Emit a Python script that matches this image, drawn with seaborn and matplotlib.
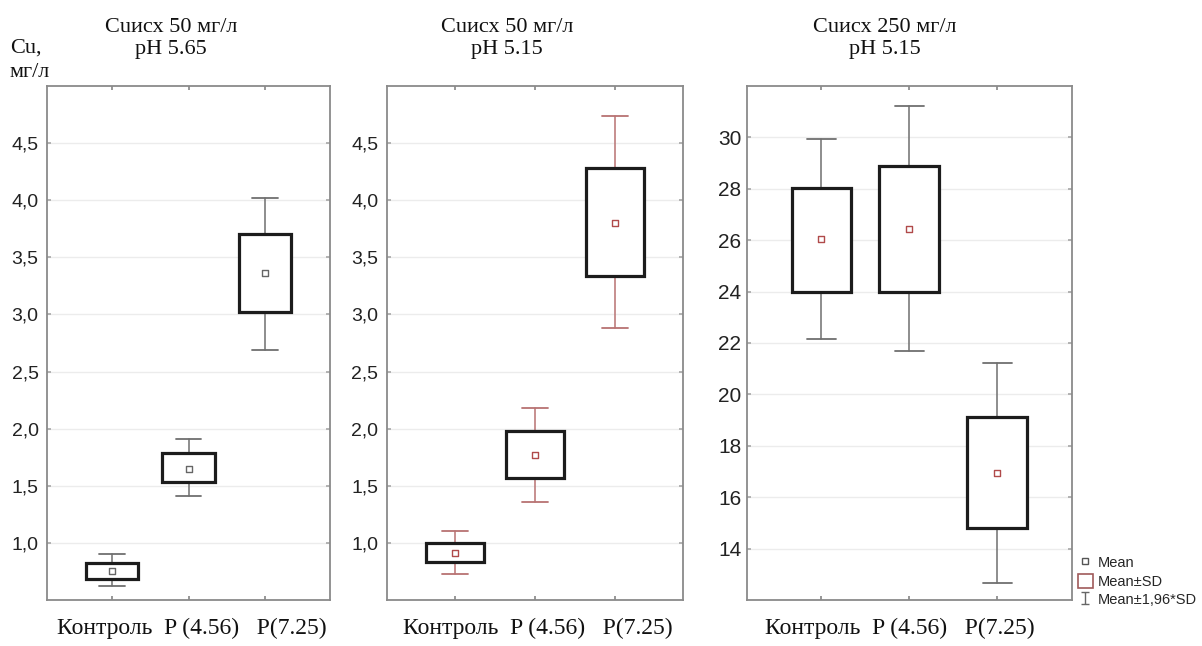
import numpy as np
import pandas as pd
import matplotlib
matplotlib.use("Agg")
import matplotlib.pyplot as plt
from matplotlib.lines import Line2D
from matplotlib.patches import Patch
from matplotlib.path import Path
import seaborn as sns

# ---------------- data ----------------
categories = ["Контроль", "P (4.56)", "P(7.25)"]

titles = ["Cuисх 50 мг/л\npH 5.65", "Cuисх 50 мг/л\npH 5.15", "Cuисх 250 мг/л\npH 5.15"]
y_label = "Cu,\nмг/л"

# panel 1: Cu 50 mg/l, pH 5.65
p1_mean = [0.75, 1.65, 3.36]
p1_sd_lo = [0.68, 1.53, 3.02]
p1_sd_hi = [0.82, 1.79, 3.70]
p1_ci_lo = [0.62, 1.41, 2.69]
p1_ci_hi = [0.90, 1.91, 4.02]

# panel 2: Cu 50 mg/l, pH 5.15
p2_mean = [0.91, 1.77, 3.80]
p2_sd_lo = [0.83, 1.57, 3.34]
p2_sd_hi = [1.00, 1.98, 4.28]
p2_ci_lo = [0.73, 1.36, 2.88]
p2_ci_hi = [1.10, 2.18, 4.74]

# panel 3: Cu 250 mg/l, pH 5.15
p3_mean = [26.04, 26.43, 16.93]
p3_sd_lo = [24.0, 24.0, 14.8]
p3_sd_hi = [28.03, 28.88, 19.13]
p3_ci_lo = [22.16, 21.67, 12.68]
p3_ci_hi = [29.92, 31.21, 21.21]

y_ticks_small = [1.0, 1.5, 2.0, 2.5, 3.0, 3.5, 4.0, 4.5]
y_ticks_big = [14, 16, 18, 20, 22, 24, 26, 28, 30]

legend_labels = ["Mean", "Mean±SD", "Mean±1,96*SD"]

# ---------------- style ----------------
sns.set_theme(style="white")
plt.rcParams["font.family"] = ["Liberation Sans", "DejaVu Sans"]
SERIF = ["Liberation Serif", "DejaVu Serif"]

W, H = 1202, 646
fig = plt.figure(figsize=(W / 100, H / 100), dpi=100)

def fx(px):
    return px / W

def fy(py):
    return 1 - py / H

panels = [
    dict(left=47, right=330, mean=p1_mean, lo=p1_sd_lo, hi=p1_sd_hi, clo=p1_ci_lo, chi=p1_ci_hi,
         ylim=(0.5, 5.0), ticks=y_ticks_small, fmt=lambda v: f"{v:.1f}".replace(".", ","),
         whisk="#6f6f6f", meanc="#666666", tfs=14, pad=6, title_x=171, xl_x=0.51, bw=0.68),
    dict(left=386.7, right=683, mean=p2_mean, lo=p2_sd_lo, hi=p2_sd_hi, clo=p2_ci_lo, chi=p2_ci_hi,
         ylim=(0.5, 5.0), ticks=y_ticks_small, fmt=lambda v: f"{v:.1f}".replace(".", ","),
         whisk="#b87272", meanc="#b04a4a", tfs=14, pad=6, title_x=507, xl_x=0.51, bw=0.72),
    dict(left=746.7, right=1072, mean=p3_mean, lo=p3_sd_lo, hi=p3_sd_hi, clo=p3_ci_lo, chi=p3_ci_hi,
         ylim=(12, 32), ticks=y_ticks_big, fmt=lambda v: f"{v:.0f}",
         whisk="#6f6f6f", meanc="#b04a4a", tfs=15, pad=4, title_x=885, xl_x=0.47, bw=0.68),
]

top_px, bot_px = 86, 600
positions = np.arange(len(categories))

for i, p in enumerate(panels):
    ax = fig.add_axes([fx(p["left"]), fy(bot_px), fx(p["right"] - p["left"]), (bot_px - top_px) / H])
    stats = []
    for j, cat in enumerate(categories):
        stats.append(dict(label=cat, med=p["mean"][j], q1=p["lo"][j], q3=p["hi"][j],
                          whislo=p["clo"][j], whishi=p["chi"][j], fliers=[]))
    ax.bxp(stats, positions=positions, widths=p["bw"], capwidths=0.33, showfliers=False,
           patch_artist=True,
           boxprops=dict(facecolor="white", edgecolor="#1c1c1c", linewidth=2.3, zorder=3),
           whiskerprops=dict(color=p["whisk"], linewidth=1.1, zorder=2),
           capprops=dict(color=p["whisk"], linewidth=1.3, zorder=2),
           medianprops=dict(visible=False))
    df = pd.DataFrame({"pos": positions, "mean": p["mean"]})
    sns.scatterplot(data=df, x="pos", y="mean", ax=ax, marker="s", s=14,
                    facecolor="white", edgecolor=p["meanc"], linewidth=1.0, zorder=5, legend=False)

    ax.set_xlim(-0.85, 2.85)
    ax.set_ylim(*p["ylim"])
    ax.set_yticks(p["ticks"])
    ax.set_yticklabels([p["fmt"](v) for v in p["ticks"]], fontsize=p["tfs"], color="#222222")
    ax.set_xticks(positions)
    ax.set_xticklabels([])
    ax.grid(axis="y", color="#ececec", linewidth=1.0)
    ax.set_axisbelow(True)
    for s in ax.spines.values():
        s.set_color("#8a8a8a")
        s.set_linewidth(1.3)
    ax.tick_params(axis="x", direction="in", length=3, color="#8a8a8a", top=True, bottom=True)
    ax.tick_params(axis="y", direction="in", length=0, pad=p["pad"], left=True, right=False)
    ax.tick_params(axis="y", which="both", right=True, length=3, color="#aaaaaa")
    ax.set_ylabel("")
    ax.set_xlabel(categories[0] + "  " + categories[1] + "   " + categories[2],
                  fontsize=17, family=SERIF, color="#111111")
    ax.xaxis.set_label_coords(p["xl_x"], -0.035)

    fig.text(fx(p["title_x"]), fy(38.5), titles[i], ha="center", va="center",
             fontsize=16, family=SERIF, color="#111111", linespacing=1.15)

fig.text(fx(10), fy(60), y_label, ha="left", va="center", fontsize=16,
         family=SERIF, color="#111111", linespacing=1.4)

cap_path = Path([(-0.6, 1), (0.6, 1), (0, 1), (0, -1), (-0.6, -1), (0.6, -1)],
                [Path.MOVETO, Path.LINETO, Path.MOVETO, Path.LINETO, Path.MOVETO, Path.LINETO])
handles = [
    Line2D([], [], linestyle="none", marker="s", markersize=5, markerfacecolor="white",
           markeredgecolor="#555555", markeredgewidth=1.0),
    Patch(facecolor="white", edgecolor="#a05a5a", linewidth=1.2),
    Line2D([], [], linestyle="none", marker=cap_path, markersize=9, markeredgewidth=1.0,
           color="#666666", markerfacecolor="none"),
]
fig.legend(handles, legend_labels, loc="upper left", bbox_to_anchor=(fx(1078), fy(555)),
           frameon=False, fontsize=10.5, handlelength=1.0, handleheight=1.1,
           handletextpad=0.35, labelspacing=0.25, borderpad=0, borderaxespad=0)

fig.savefig("out.png", dpi=100)
